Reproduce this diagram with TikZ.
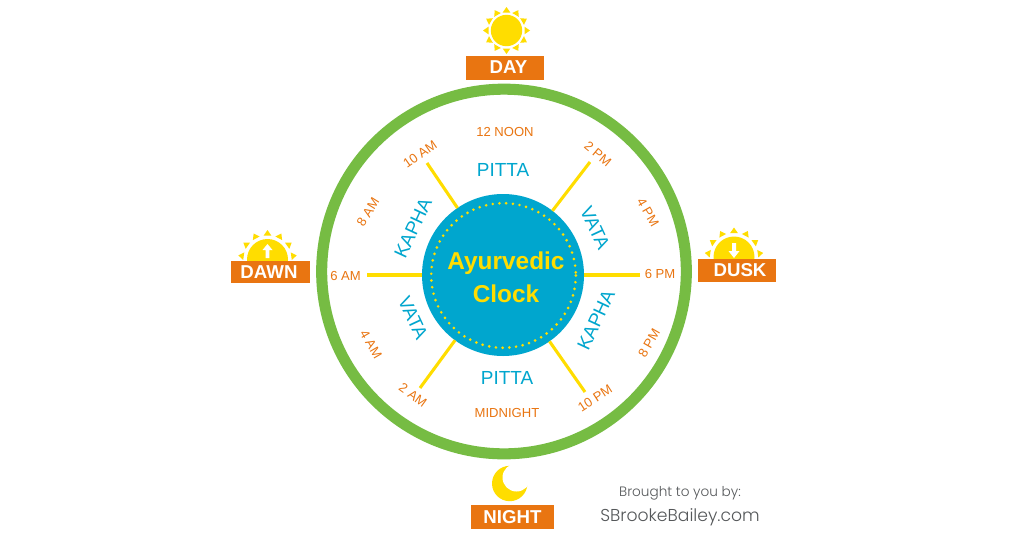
\documentclass[tikz,border=0pt]{standalone}
\usepackage{fontspec}
\setmainfont{Liberation Sans}
\newfontfamily\thinfont{Poppins Light}
\definecolor{ringgreen}{HTML}{76BC43}
\definecolor{hubblue}{HTML}{00A6CE}
\definecolor{sunyellow}{HTML}{FFDD00}
\definecolor{labelorange}{HTML}{E97511}
\definecolor{creditgray}{HTML}{55585A}
\newcommand{\rays}[5]{\foreach \a in {#5}{\fill[sunyellow,shift={(#1,#2)},rotate=\a] (#3,-3.8) -- (#4,0) -- (#3,3.8) -- cycle;}}
\tikzset{
  x=0.75pt,y=-0.75pt,
  timelabel/.style={text=labelorange,font=\fontsize{9.8pt}{11pt}\selectfont,inner sep=0pt},
  dosha/.style={text=hubblue,font=\fontsize{14.2pt}{16pt}\selectfont,inner sep=0pt},
  spoke/.style={draw=sunyellow,line width=2.3pt},
  tag/.style={fill=labelorange,text=white,inner sep=0pt,outer sep=0pt,minimum height=18pt},
  tagtext/.style={text=white,inner sep=0pt,font=\bfseries\fontsize{14pt}{15pt}\selectfont},
  hubtext/.style={text=sunyellow,font=\bfseries\fontsize{18.3pt}{21pt}\selectfont,inner sep=0pt},
}
\begin{document}
\begin{tikzpicture}
\useasboundingbox[fill=white] (0,0) rectangle (1024,550);
% ring
\node[circle,draw=ringgreen,line width=8.3pt,minimum size=273.5pt,inner sep=0pt,outer sep=0pt] (ring) at (504,271.5) {};
% hub
\node[circle,fill=hubblue,minimum size=121.5pt,inner sep=0pt,outer sep=0pt] (hub) at (503,275) {};
\draw[sunyellow,line width=2.2pt,line cap=round,dash pattern=on 0pt off 5.05pt] (503.5,275.5) circle (72.3);
\node[hubtext] (ttl1) at (506,263) {Ayurvedic};
\node[hubtext] (ttl2) at (506,294) {Clock};
% spoke ends
\coordinate (s6am) at (367,275);
\coordinate (s6pm) at (640,275);
\coordinate (s10am) at (427,163);
\coordinate (s2pm) at (590,162);
\coordinate (s2am) at (420,388);
\coordinate (s10pm) at (585,392);
\foreach \e in {s6am,s6pm,s10am,s2pm,s2am,s10pm}{\draw[spoke] (\e) -- (hub);}
% times
\node[timelabel] (t12) at (505,132) {12 NOON};
\node[timelabel] (tmid) at (507,412.5) {MIDNIGHT};
\node[timelabel] (t6a) at (345.5,276) {6 AM};
\node[timelabel] (t6p) at (660,274) {6 PM};
\node[timelabel,rotate=35] (t10a) at (420,154) {10 AM};
\node[timelabel,rotate=-40] (t2p) at (598,154) {2 PM};
\node[timelabel,rotate=58] (t8a) at (368,212) {8 AM};
\node[timelabel,rotate=-60] (t4p) at (648,212) {4 PM};
\node[timelabel,rotate=-60] (t4a) at (371,344) {4 AM};
\node[timelabel,rotate=60] (t8p) at (649,343) {8 PM};
\node[timelabel,rotate=-36] (t2a) at (413,395) {2 AM};
\node[timelabel,rotate=33] (t10p) at (595,398) {10 PM};
% doshas
\node[dosha] (p1) at (503,170) {PITTA};
\node[dosha] (p2) at (507,378) {PITTA};
\node[dosha,rotate=65] (k1) at (413,228) {KAPHA};
\node[dosha,rotate=65] (k2) at (596,320) {KAPHA};
\node[dosha,rotate=-65] (v1) at (595,228) {VATA};
\node[dosha,rotate=-65] (v2) at (413,318) {VATA};
% day sun
\fill[sunyellow] (506.5,30.5) circle (15.7);
\rays{506.5}{30.5}{18}{23.5}{0,30,...,330}
\node[tag,minimum width=58.5pt] (day) at (505,67.5) {};
\node[tagtext] (daytxt) at (508.5,67.5) {DAY};
% dawn
\fill[sunyellow] (267.5,259.5) circle (20.5);
\rays{267.5}{259.5}{24}{29.5}{8,35,62,90,118,145,172}
\fill[white] (265.6,258) -- (265.6,250) -- (262.5,250) -- (267.5,244) -- (272.5,250) -- (269.4,250) -- (269.4,258) -- cycle;
\node[tag,minimum width=59.25pt,minimum height=16.5pt] (dawn) at (270.5,272) {};
\node[tagtext] (dawntxt) at (269,272) {DAWN};
% dusk
\fill[sunyellow] (734,257) circle (20.5);
\rays{734}{257}{24}{29.5}{8,35,62,90,118,145,172}
\fill[white] (732,243) -- (732,251) -- (728.5,251) -- (734,258) -- (739.5,251) -- (736,251) -- (736,243) -- cycle;
\node[tag,minimum width=58.5pt,minimum height=17.25pt] (dusk) at (737,270.5) {};
\node[tagtext] (dusktxt) at (740,270.5) {DUSK};
% moon
\fill[sunyellow] (509.7,483.5) circle (17.7);
\fill[white] (516.5,477.5) circle (14);
\node[tag,minimum width=62.25pt] (night) at (512.5,517) {};
\node[tagtext] (nighttxt) at (512.5,517) {NIGHT};
% credit
\node[text=creditgray,inner sep=0pt,font=\thinfont\fontsize{10.2pt}{12pt}\selectfont] (cr1) at (680,493.5) {Brought to you by:};
\node[text=creditgray,inner sep=0pt,font=\thinfont\fontsize{12.9pt}{16pt}\selectfont] (cr2) at (680,517) {SBrookeBailey.com};
\end{tikzpicture}
\end{document}
